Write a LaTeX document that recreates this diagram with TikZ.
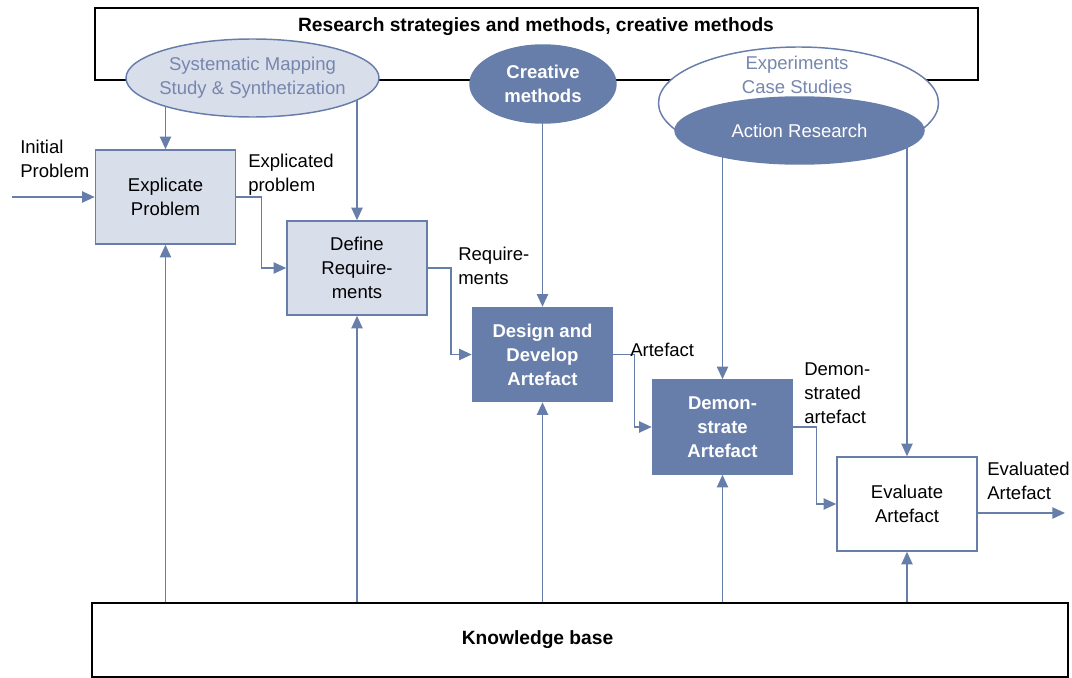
\documentclass[tikz,border=0pt]{standalone}
\usepackage{fontspec}
\setmainfont{Liberation Sans}
\usetikzlibrary{arrows.meta,shapes.geometric}
\definecolor{dk}{RGB}{104,126,170}
\definecolor{lt}{RGB}{217,222,235}
\definecolor{ltxt}{RGB}{118,134,172}
\pgfdeclarelayer{bg}\pgfsetlayers{bg,main}
\begin{document}
\begin{tikzpicture}[x=0.75pt,y=-0.75pt,
  font=\fontsize{13.9}{18}\selectfont,
  arr/.style={draw=dk,line width=1.1pt,-{Triangle[length=9.5pt,width=8.5pt]}},
  procbox/.style={draw=dk,line width=1.2pt,minimum width=105pt,minimum height=70.5pt,inner sep=0pt,align=center},
  lbox/.style={procbox,fill=lt},
  dbox/.style={procbox,fill=dk,text=white,font=\fontsize{13.9}{18}\selectfont\bfseries},
  wbox/.style={procbox,fill=white},
  bigbox/.style={draw=black,line width=1.5pt,fill=white,inner sep=0pt},
  bigtxt/.style={inner sep=0pt,font=\fontsize{14.4}{18}\selectfont\bfseries},
  lbl/.style={anchor=north west,inner sep=0pt,align=left},
  ell/.style={ellipse,draw=dk,line width=1.1pt,inner sep=0pt,align=center}
]
\useasboundingbox (0,0) rectangle (1072,678);

% frames
\begin{pgfonlayer}{bg}
\node[bigbox,minimum width=662.25pt,minimum height=54pt] (top) at (536.5,44) {};
\end{pgfonlayer}
\node[bigtxt] (title) at (536,27) {Research strategies and methods, creative methods};
\node[bigbox,minimum width=732pt,minimum height=55.5pt] (kb) at (580,640) {};
\node[bigtxt] (kbtxt) at (537.5,640) {Knowledge base};

% process boxes
\node[lbox] (expl) at (165.5,197) {Explicate\\Problem};
\node[lbox] (def) at (357,268) {Define\\Require-\\ments};
\node[dbox] (des) at (542.5,354.5) {Design and\\Develop\\Artefact};
\node[dbox] (dem) at (722.5,427) {Demon-\\strate\\Artefact};
\node[wbox] (eva) at (907,504) {Evaluate\\Artefact};

% ellipse centres
\coordinate (smsc) at (252.5,78);
\coordinate (cmc) at (543,84);
\coordinate (outc) at (798.5,103);
\coordinate (arc) at (799.5,130.5);

% connectors from ellipses (behind them)
\begin{pgfonlayer}{bg}
\draw[arr] (smsc -| expl.north) -- (expl.north);
\draw[arr] (smsc -| def.north) -- (def.north);
\draw[arr] (cmc -| des.north) -- (des.north);
\draw[arr] (arc -| dem.north) -- (dem.north);
\draw[arr] (arc -| eva.north) -- (eva.north);
\end{pgfonlayer}

% ellipses
\node[ell,fill=lt,text=ltxt,minimum width=189.75pt,minimum height=58.5pt] (sms) at (smsc) {\makebox[0pt]{Systematic Mapping}\\\makebox[0pt]{Study \& Synthetization}};
\node[ell,fill=dk,text=white,font=\fontsize{13.9}{18}\selectfont\bfseries,minimum width=109.5pt,minimum height=58.5pt] (cm) at (cmc) {Creative\\methods};
\node[ell,fill=white,minimum width=210pt,minimum height=84pt] (outer) at (outc) {};
\node[inner sep=0pt,text=ltxt,align=center] (exptxt) at (797,74.5) {Experiments\\Case Studies};
\node[ell,fill=dk,text=white,minimum width=186.75pt,minimum height=50.25pt] (ar) at (arc) {Action Research};

% knowledge base arrows
\foreach \b in {expl,def,des,dem,eva}
  \draw[arr] (kb.north -| \b.south) -- (\b.south);

% flow
\coordinate (inp) at (12,197);
\coordinate (outp) at (1065,513);
\draw[arr] (inp) -- (expl.west);
\draw[arr] (expl.east) -- ++(25,0) |- (def.west);
\draw[arr] (def.east) -- ++(23,0) |- (des.west);
\draw[arr] (des.east) -- ++(21,0) |- (dem.west);
\draw[arr] (dem.east) -- ++(23,0) |- (eva.west);
\draw[arr] (eva.east |- outp) -- (outp);

% labels
\node[lbl] (l1) at (20,140) {Initial\\Problem};
\node[lbl] (l2) at (248,154) {Explicated\\problem};
\node[lbl] (l3) at (458,247) {Require-\\ments};
\node[lbl] (l4) at (630,343) {Artefact};
\node[lbl] (l5) at (804,362) {Demon-\\strated\\artefact};
\node[lbl] (l6) at (987,462) {Evaluated\\Artefact};
\end{tikzpicture}
\end{document}
